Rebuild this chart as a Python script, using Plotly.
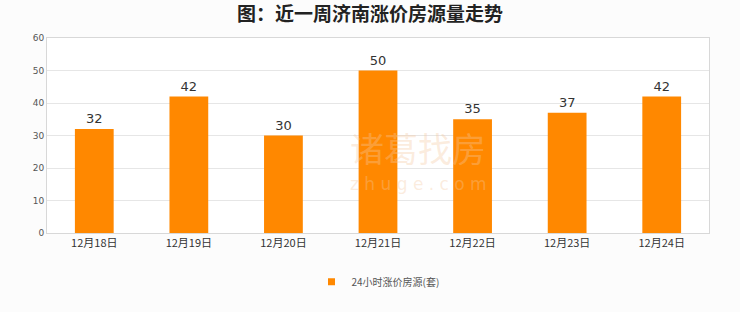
import plotly.graph_objects as go

# Listing counts with a price increase over the last seven days
dates = ["12月18日", "12月19日", "12月20日", "12月21日", "12月22日", "12月23日", "12月24日"]
counts = [32, 42, 30, 50, 35, 37, 42]
y_ticks = [0, 10, 20, 30, 40, 50, 60]
series_name = "24小时涨价房源(套)"
title_text = "图：近一周济南涨价房源量走势"
bar_color = "#FF8800"

fig = go.Figure()
fig.add_trace(go.Bar(
    x=dates, y=counts, name=series_name, showlegend=False,
    marker=dict(color=bar_color, line=dict(width=0)),
    width=0.41,
    text=[str(v) for v in counts], textposition="outside",
    textfont=dict(size=13, color="#333333", family="DejaVu Sans"),
    cliponaxis=False,
))
# small square legend key
fig.add_trace(go.Scatter(
    x=[None], y=[None], mode="markers", name=series_name,
    marker=dict(symbol="square", size=7, color=bar_color),
))

# faint brand watermark
fig.add_annotation(x=0.5, y=0.5, xref="paper", yref="paper",
                   text="诸葛找房", showarrow=False,
                   font=dict(size=34, color="rgba(245,200,160,0.35)", family="Noto Sans CJK SC"),
                   xshift=40, yshift=-12)
fig.add_annotation(x=0.5, y=0.5, xref="paper", yref="paper",
                   text="z h u g e . c o m", showarrow=False,
                   font=dict(size=17, color="rgba(245,200,160,0.35)", family="DejaVu Sans"),
                   xshift=40, yshift=-48)

fig.update_layout(
    width=740, height=312,
    margin=dict(l=47, r=31, t=38, b=79),
    paper_bgcolor="#fcfcfc", plot_bgcolor="#ffffff",
    title=dict(text=title_text, x=0.5, xanchor="center", y=0.955, yanchor="middle",
               font=dict(size=19, color="#222222", family="Noto Sans CJK SC", weight="bold")),
    showlegend=True,
    legend=dict(orientation="h", x=0.5, xanchor="center", y=-0.25, yanchor="middle",
                font=dict(size=10, color="#555555", family="Noto Sans CJK SC"),
                itemwidth=30, bgcolor="rgba(255,255,255,0)"),
    bargap=0.59,
    font=dict(family="DejaVu Sans"),
)
fig.update_xaxes(showline=True, linecolor="#d8d8d8", mirror=True, ticks="",
                 tickfont=dict(size=11, color="#333333", family="Noto Sans CJK SC"),
                 showgrid=False)
fig.update_yaxes(range=[0, 60], tickvals=y_ticks, showgrid=True, gridcolor="#e6e6e6",
                 showline=True, linecolor="#d8d8d8", mirror=True, zeroline=False,
                 tickfont=dict(size=9, color="#555555"), ticks="")

fig.write_html("out.html")
